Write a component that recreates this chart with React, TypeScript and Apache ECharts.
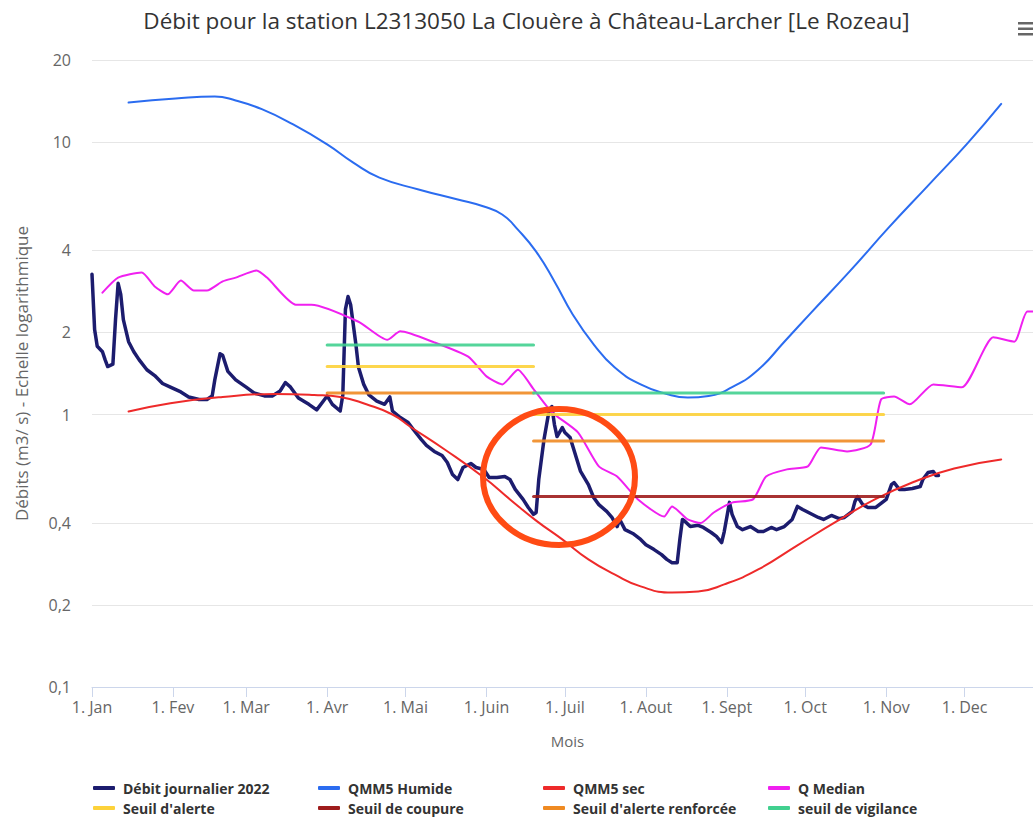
import React, { useEffect, useRef } from 'react';
import * as echarts from 'echarts';

// X axis: day of year 2022 (0 = 1 Jan)
const monthStartDays = [0, 31, 59, 90, 120, 151, 181, 212, 243, 273, 304, 334];
const monthLabels = ['1. Jan', '1. Fev', '1. Mar', '1. Avr', '1. Mai', '1. Juin', '1. Juil', '1. Aout', '1. Sept', '1. Oct', '1. Nov', '1. Dec'];
const yTicks = [0.1, 0.2, 0.4, 1, 2, 4, 10, 20];

const TITLE = 'Débit pour la station L2313050 La Clouère à Château-Larcher [Le Rozeau]';
const Y_NAME = 'Débits (m3/ s) - Echelle logarithmique';
const X_NAME = 'Mois';

// Débit journalier 2022 [day, m3/s]
const debit2022: [number, number][] = [
  [0, 3.27], [1, 2.05], [2, 1.78], [4, 1.7], [5, 1.59], [6, 1.5], [8, 1.53], [9, 2.23], [10, 3.03], [11, 2.76],
  [12, 2.23], [14, 1.85], [16, 1.7], [18, 1.59], [21, 1.46], [24, 1.39], [27, 1.3], [30, 1.26], [34, 1.21], [37, 1.16],
  [41, 1.135], [44, 1.135], [46, 1.17], [47, 1.34], [49, 1.67], [50, 1.65], [52, 1.44], [55, 1.34], [59, 1.26], [62, 1.2],
  [66, 1.17], [69, 1.17], [72, 1.22], [74, 1.31], [76, 1.26], [79, 1.15], [83, 1.09], [86, 1.04], [89, 1.135], [90, 1.17],
  [92, 1.09], [95, 1.03], [96, 1.18], [97, 2.43], [98, 2.71], [99, 2.53], [101, 1.81], [102, 1.49], [104, 1.29], [106, 1.18],
  [109, 1.12], [112, 1.09], [114, 1.16], [115, 1.03], [118, 0.975], [121, 0.935], [123, 0.881], [126, 0.81], [128, 0.77], [131, 0.732],
  [134, 0.707], [136, 0.667], [138, 0.602], [140, 0.577], [142, 0.639], [145, 0.661], [147, 0.639], [150, 0.628], [152, 0.587], [155, 0.587],
  [158, 0.592], [160, 0.577], [162, 0.531], [165, 0.488], [167, 0.456], [169, 0.43], [170, 0.437], [171, 0.577], [173, 0.81], [175, 1.04],
  [176, 1.07], [177, 0.919], [178, 0.83], [180, 0.896], [181, 0.859], [183, 0.823], [185, 0.713], [187, 0.618], [190, 0.553], [192, 0.496],
  [194, 0.467], [197, 0.441], [199, 0.419], [201, 0.388], [202, 0.412], [204, 0.378], [207, 0.366], [210, 0.348], [212, 0.333], [215, 0.32],
  [218, 0.306], [220, 0.294], [222, 0.286], [224, 0.286], [225, 0.348], [226, 0.412], [227, 0.405], [229, 0.388], [232, 0.392], [234, 0.385],
  [237, 0.369], [239, 0.357], [241, 0.339], [242, 0.372], [244, 0.476], [245, 0.43], [247, 0.388], [249, 0.378], [252, 0.388], [255, 0.372],
  [257, 0.372], [260, 0.385], [262, 0.378], [265, 0.388], [268, 0.412], [270, 0.46], [272, 0.448], [275, 0.433], [278, 0.419], [280, 0.412],
  [283, 0.426], [286, 0.415], [288, 0.419], [291, 0.441], [292, 0.479], [293, 0.5], [295, 0.467], [297, 0.456], [300, 0.456], [302, 0.472],
  [304, 0.488], [306, 0.553], [307, 0.563], [309, 0.531], [311, 0.531], [314, 0.535], [317, 0.544], [318, 0.577], [320, 0.613], [322, 0.618],
  [323, 0.597], [324, 0.597],
];

// QMM5 Humide
const qmm5Humide: [number, number][] = [
  [14, 13.96], [32, 14.45], [47, 14.7], [55, 14.2], [65, 13.2], [77, 11.6], [90, 9.8], [100, 8.4], [110, 7.4], [125, 6.7],
  [140, 6.15], [150, 5.8], [157, 5.42], [163, 4.77], [170, 3.96], [177, 3.08], [184, 2.33], [192, 1.81], [200, 1.49], [210, 1.29],
  [220, 1.19], [228, 1.155], [236, 1.17], [245, 1.26], [255, 1.46], [265, 1.85], [275, 2.35], [290, 3.35], [305, 4.86], [320, 6.92],
  [335, 9.87], [348, 13.8],
];

// QMM5 sec
const qmm5Sec: [number, number][] = [
  [14, 1.025], [30, 1.1], [50, 1.16], [70, 1.19], [85, 1.18], [95, 1.16], [105, 1.09], [115, 1.0], [122, 0.9], [135, 0.744],
  [150, 0.587], [160, 0.488], [170, 0.408], [180, 0.348], [190, 0.294], [200, 0.259], [210, 0.234], [222, 0.222], [232, 0.224], [242, 0.238],
  [255, 0.27], [270, 0.331], [285, 0.405], [300, 0.49], [315, 0.568], [330, 0.634], [348, 0.684],
];

// Q Median
const qMedian: [number, number][] = [
  [4, 2.8], [10, 3.18], [19, 3.32], [24, 2.95], [29, 2.76], [34, 3.1], [39, 2.85], [44, 2.85], [50, 3.08], [55, 3.18],
  [63, 3.38], [67, 3.18], [78, 2.53], [84, 2.53], [102, 2.19], [113, 1.88], [118, 2.02], [131, 1.84], [144, 1.63], [151, 1.38],
  [157, 1.29], [163, 1.46], [169, 1.24], [176, 1.02], [186, 0.86], [194, 0.645], [201, 0.592], [209, 0.488], [219, 0.422], [222, 0.46],
  [228, 0.412], [233, 0.4], [238, 0.437], [245, 0.475], [253, 0.488], [258, 0.592], [266, 0.629], [274, 0.645], [279, 0.757], [289, 0.732],
  [298, 0.776], [302, 1.135], [307, 1.164], [313, 1.09], [322, 1.29], [333, 1.26], [345, 1.92], [353, 1.85], [358, 2.39], [364, 2.39],
];

// Thresholds: [startDay, endDay, value]
const seuilAlerte: [number, number, number][] = [[90, 169, 1.5], [169, 303, 1.0]];
const seuilCoupure: [number, number, number][] = [[169, 303, 0.5]];
const seuilRenforce: [number, number, number][] = [[90, 169, 1.2], [169, 303, 0.8]];
const seuilVigilance: [number, number, number][] = [[90, 169, 1.8], [169, 303, 1.2]];

const NAMES = [
  'Débit journalier 2022', 'QMM5 Humide', 'QMM5 sec', 'Q Median',
  "Seuil d'alerte", 'Seuil de coupure', "Seuil d'alerte renforcée", 'seuil de vigilance',
];
const COLORS = ['#1c1c6e', '#2b6cf0', '#ee2a2a', '#f020f0', '#fdd23a', '#9e1c1c', '#ef8a22', '#41d08f'];

const FONT = "'Open Sans', 'Noto Sans', sans-serif";

function segs(s: [number, number, number][]) {
  const out: any[] = [];
  s.forEach(([a, b, v], i) => {
    if (i > 0) out.push([a, '-']);
    out.push([a, v], [b, v]);
  });
  return out;
}

export default function App() {
  const ref = useRef<HTMLDivElement>(null);
  useEffect(() => {
    if (!ref.current) return;
    const chart = echarts.init(ref.current, undefined, { renderer: 'svg' });
    const lineSeries = (name: string, color: string, data: any[], width: number, smooth: boolean | number, opacity = 1) => ({
      type: 'line', name, data, color, smooth, symbol: 'none', showSymbol: false, connectNulls: false,
      lineStyle: { color, width, cap: 'round', join: 'round', opacity },
    });
    const legendCols = [93, 318, 543, 768];
    const legendRows = [781, 801];
    const legends = NAMES.map((n, i) => ({
      data: [n], left: legendCols[i % 4], top: legendRows[Math.floor(i / 4)],
      icon: 'roundRect', itemWidth: 22, itemHeight: 4, padding: 0,
      textStyle: { fontFamily: FONT, fontSize: 14, fontWeight: 'bold', color: '#333', padding: [0, 0, 0, 3] },
      selectedMode: false,
    }));
    chart.setOption({
      animation: false,
      backgroundColor: '#fff',
      title: {
        text: TITLE, left: 'center', top: 4,
        textStyle: { fontFamily: FONT, fontSize: 22.5, fontWeight: 'normal', color: '#333' },
      },
      legend: legends,
      grid: { left: 92, right: 10, top: 60, bottom: 130 },
      xAxis: {
        type: 'value', min: 0, max: 364,
        name: X_NAME, nameLocation: 'middle', nameGap: 46,
        nameTextStyle: { fontFamily: FONT, fontSize: 15, color: '#666' },
        axisLine: { show: true, lineStyle: { color: '#ccd6eb', width: 1 } },
        axisTick: { show: true, length: 10, lineStyle: { color: '#ccd6eb' }, customValues: monthStartDays },
        axisLabel: {
          customValues: monthStartDays, margin: 12, fontFamily: FONT, fontSize: 16, color: '#666',
          formatter: (v: number) => monthLabels[monthStartDays.indexOf(Math.round(v))] ?? '',
        },
        splitLine: { show: false },
      },
      yAxis: {
        type: 'log', logBase: 10, min: 0.1, max: 20,
        name: Y_NAME, nameLocation: 'middle', nameGap: 62,
        nameTextStyle: { fontFamily: FONT, fontSize: 17, color: '#666' },
        axisLine: { show: false },
        axisTick: { show: false, customValues: yTicks },
        axisLabel: {
          customValues: yTicks, margin: 21, fontFamily: FONT, fontSize: 16, color: '#666',
          formatter: (v: number) => String(v).replace('.', ','),
        },
        splitLine: { show: true, lineStyle: { color: '#e6e6e6', width: 1 } },
      },
      series: [
        lineSeries(NAMES[0], COLORS[0], debit2022, 3.5, false),
        lineSeries(NAMES[1], COLORS[1], qmm5Humide, 2, true),
        lineSeries(NAMES[2], COLORS[2], qmm5Sec, 2, true),
        lineSeries(NAMES[3], COLORS[3], qMedian, 2, 0.2),
        lineSeries(NAMES[4], COLORS[4], segs(seuilAlerte), 3, false, 0.9),
        lineSeries(NAMES[5], COLORS[5], segs(seuilCoupure), 3, false, 0.9),
        lineSeries(NAMES[6], COLORS[6], segs(seuilRenforce), 3, false, 0.9),
        lineSeries(NAMES[7], COLORS[7], segs(seuilVigilance), 3, false, 0.9),
      ],
      graphic: [
        { type: 'ellipse', z: 100, shape: { cx: 559, cy: 477, rx: 76, ry: 68 }, style: { fill: 'none', stroke: '#ff4b14', lineWidth: 6 } },
        { type: 'rect', z: 100, shape: { x: 1018, y: 22, width: 18, height: 2.5 }, style: { fill: '#666' } },
        { type: 'rect', z: 100, shape: { x: 1018, y: 27.5, width: 18, height: 2.5 }, style: { fill: '#666' } },
        { type: 'rect', z: 100, shape: { x: 1018, y: 33, width: 18, height: 2.5 }, style: { fill: '#666' } },
      ],
    });
    return () => chart.dispose();
  }, []);
  return (
    <div style={{ position: 'absolute', left: 0, top: 0, width: 1033, height: 817, overflow: 'hidden', background: '#fff' }}>
      <div ref={ref} style={{ position: 'absolute', left: 0, top: 0, width: 1053, height: 817 }} />
    </div>
  );
}
